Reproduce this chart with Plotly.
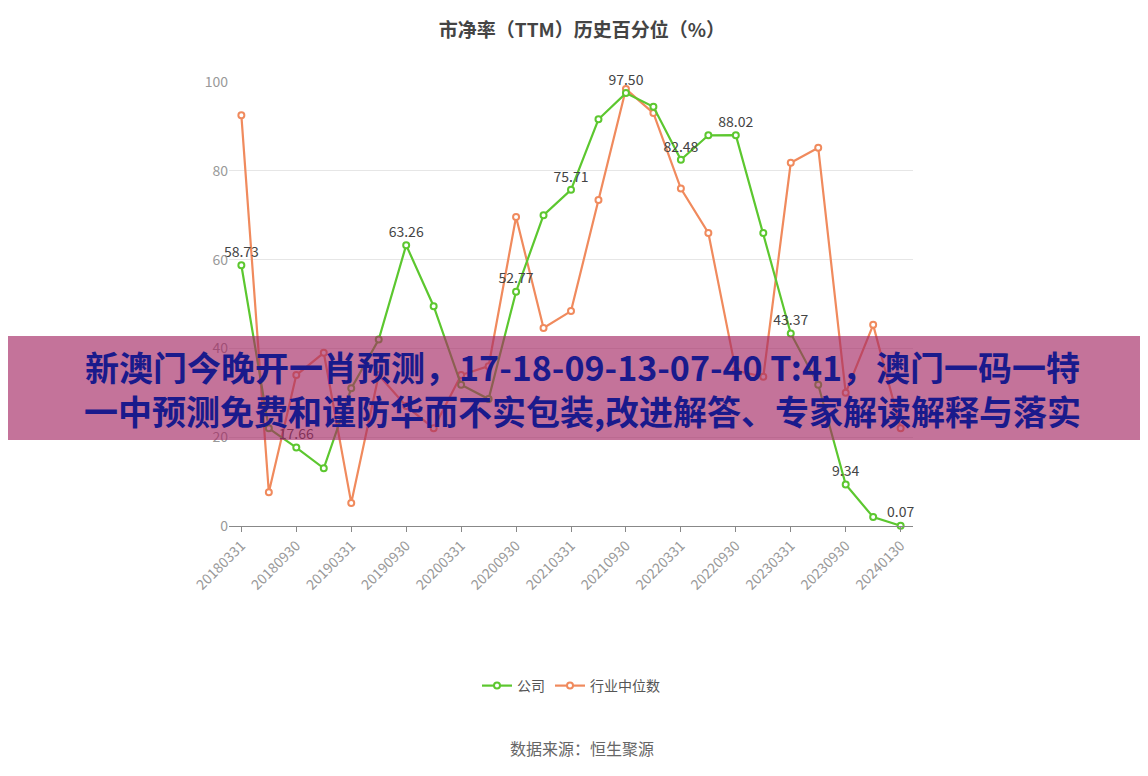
import plotly.graph_objects as go

dates = ["20180331","20180630","20180930","20181231","20190331","20190630","20190930","20191231",
         "20200331","20200630","20200930","20201231","20210331","20210630","20210930","20211231",
         "20220331","20220630","20220930","20221231","20230331","20230630","20230930","20231231","20240130"]
company = [58.73,22.0,17.66,13.0,31.0,42.0,63.26,49.5,31.8,28.6,52.77,70.0,75.71,91.6,97.50,94.4,
           82.48,88.0,88.02,66.0,43.37,31.8,9.34,2.0,0.07]
industry = [92.5,7.6,34.0,39.0,5.2,34.0,27.0,22.0,34.0,36.0,69.6,44.6,48.4,73.4,98.4,93.0,
            76.0,66.0,35.0,33.6,81.8,85.2,30.0,45.3,22.0]
label_idx = [0,2,6,10,12,14,16,18,20,22,24]
tick_dates = dates[::2]

green = "#5cc72f"
orange = "#f08a5d"
ctext = ["%.2f" % v if i in label_idx else "" for i, v in enumerate(company)]

L, R, T, B = 221, 243, 74, 258
pw, ph = 1148 - L - R, 776 - T - B

def py(pix):
    return (776 - pix - B) / ph

fig = go.Figure()
fig.add_trace(go.Scatter(x=dates, y=industry, name="行业中位数", mode="lines+markers",
    line=dict(color=orange, width=2.2), cliponaxis=False,
    marker=dict(size=6, color="white", line=dict(color=orange, width=2))))
fig.add_trace(go.Scatter(x=dates, y=company, name="公司", mode="lines+markers+text",
    text=ctext, textposition="top center", textfont=dict(size=14, color="#444"),
    line=dict(color=green, width=2.2), cliponaxis=False,
    marker=dict(size=6, color="white", line=dict(color=green, width=2))))

fig.update_layout(
    width=1148, height=776, paper_bgcolor="white", plot_bgcolor="white",
    font=dict(family="Noto Sans CJK SC, sans-serif"),
    margin=dict(l=L, r=R, t=T, b=B),
    title=dict(text="<b>市净率（TTM）历史百分位（%）</b>", x=0.5, y=0.98, xanchor="center",
               font=dict(size=19, color="#444")),
    xaxis=dict(type="category", tickvals=tick_dates, ticktext=tick_dates, tickangle=-45,
               tickfont=dict(size=14, color="#999"), showgrid=False, showline=True,
               linecolor="#888", ticks="outside", ticklen=5, tickcolor="#888", range=[-0.45, 24.45]),
    yaxis=dict(range=[0, 100], dtick=20, tickfont=dict(size=14, color="#999"),
               gridcolor="#e6e6e6", zeroline=False, showline=False),
    legend=dict(orientation="h", x=0.5, xanchor="center", y=py(678), yanchor="middle",
                traceorder="reversed", font=dict(size=14, color="#555")),
    annotations=[
        dict(text="数据来源：恒生聚源", xref="paper", yref="paper", x=(574 - L) / pw, y=py(740),
             xanchor="center", yanchor="middle", showarrow=False,
             font=dict(size=16, color="#666")),
        dict(text="<b>新澳门今晚开一肖预测，17-18-09-13-07-40 T:41，澳门一码一特<br>一中预测免费和谨防华而不实包装,改进解答、专家解读解释与落实</b>",
             xref="paper", yref="paper", x=(574 - L) / pw, y=py(380),
             xanchor="center", yanchor="middle", showarrow=False,
             font=dict(size=34, color="#1a1a8c"), align="center"),
    ],
    shapes=[dict(type="rect", xref="paper", yref="paper", x0=-L / pw, x1=(1148 - L) / pw,
                 y0=py(432), y1=py(328), fillcolor="rgba(165,40,100,0.65)",
                 line=dict(width=0), layer="above")],
)
fig.write_html("out.html")
